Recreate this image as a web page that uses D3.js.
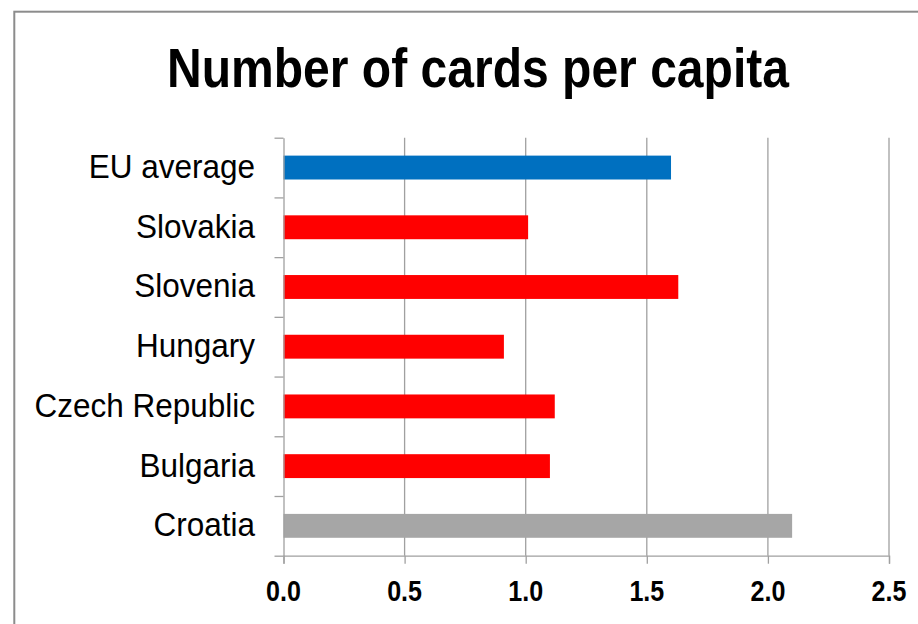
<!DOCTYPE html>
<html>
<head>
<meta charset="utf-8">
<script src="https://cdn.jsdelivr.net/npm/d3@7"></script>
<style>
  html, body { margin: 0; padding: 0; background: #fff; }
  svg { display: block; }
</style>
</head>
<body>
<svg id="chart" width="918" height="624"></svg>
<script>
const titleText = "Number of cards per capita";
const categories = ["EU average", "Slovakia", "Slovenia", "Hungary", "Czech Republic", "Bulgaria", "Croatia"];
const values = [1.60, 1.01, 1.63, 0.91, 1.12, 1.10, 2.10];
const barColors = ["#0070C0", "#FF0000", "#FF0000", "#FF0000", "#FF0000", "#FF0000", "#A6A6A6"];
const xTicks = [0, 0.5, 1.0, 1.5, 2.0, 2.5];

const svg = d3.select("#chart");
const font = "'Liberation Sans', Arial, sans-serif";

// outer frame
svg.append("rect")
  .attr("x", 14.3).attr("y", 11.7)
  .attr("width", 1000).attr("height", 800)
  .attr("fill", "#fff")
  .attr("stroke", "#8c8c8c").attr("stroke-width", 2);

const plot = { left: 283.5, right: 889, top: 137.7, bottom: 555.7 };

const x = d3.scaleLinear().domain([0, 2.5]).range([plot.left, plot.right]);
const y = d3.scaleBand().domain(categories)
  .range([plot.top, plot.bottom])
  .paddingInner(0.6).paddingOuter(0.3);
const slot = d3.scaleLinear().domain([0, categories.length]).range([plot.top, plot.bottom]);

// helper to fit text horizontally
function squeeze(sel, sx) {
  sel.each(function () {
    const t = d3.select(this);
    const tx = +t.attr("x"), ty = +t.attr("y");
    t.attr("x", 0).attr("y", 0)
     .attr("transform", `translate(${tx},${ty}) scale(${sx},1)`);
  });
}

// gridlines
svg.append("g").selectAll("line")
  .data(xTicks.filter(d => d > 0))
  .join("line")
  .attr("x1", d => x(d)).attr("x2", d => x(d))
  .attr("y1", plot.top).attr("y2", plot.bottom)
  .attr("stroke", "#a0a0a0").attr("stroke-width", 1.3);

// bars
svg.append("g").selectAll("rect")
  .data(categories)
  .join("rect")
  .attr("x", x(0))
  .attr("y", d => y(d))
  .attr("width", (d, i) => x(values[i]) - x(0))
  .attr("height", y.bandwidth())
  .attr("fill", (d, i) => barColors[i]);

// x axis
const xAxis = svg.append("g")
  .attr("transform", `translate(0,${plot.bottom})`)
  .call(d3.axisBottom(x).tickValues(xTicks).tickFormat(d3.format(".1f")).tickSize(8).tickPadding(14));
xAxis.select(".domain").attr("stroke", "#a0a0a0").attr("stroke-width", 1.3);
xAxis.selectAll(".tick line").attr("stroke", "#a0a0a0").attr("stroke-width", 1.3);
xAxis.selectAll(".tick text").remove();
svg.append("g").selectAll("text")
  .data(xTicks)
  .join("text")
  .attr("x", d => x(d))
  .attr("y", 601)
  .attr("text-anchor", "middle")
  .attr("font-family", font)
  .attr("font-weight", "bold")
  .attr("font-size", 29.5)
  .attr("fill", "#000")
  .text(d => d3.format(".1f")(d))
  .call(squeeze, 0.85);

// y axis with ticks at category boundaries
const yAxis = svg.append("g")
  .attr("transform", `translate(${plot.left},0)`)
  .call(d3.axisLeft(slot).tickValues(d3.range(categories.length + 1)).tickFormat("").tickSize(9).tickSizeOuter(0));
yAxis.select(".domain").attr("stroke", "#a0a0a0").attr("stroke-width", 1.3);
yAxis.selectAll(".tick line").attr("stroke", "#a0a0a0").attr("stroke-width", 1.3);

// category labels
svg.append("g").selectAll("text")
  .data(categories)
  .join("text")
  .attr("x", 255)
  .attr("y", d => y(d) + y.bandwidth() / 2 + 10.5)
  .attr("text-anchor", "end")
  .attr("font-family", font)
  .attr("font-size", 33.5)
  .attr("fill", "#000")
  .text(d => d)
  .call(squeeze, 0.94);

// title
svg.append("text")
  .attr("x", 478).attr("y", 86.7)
  .attr("text-anchor", "middle")
  .attr("font-family", font)
  .attr("font-weight", "bold")
  .attr("font-size", 56)
  .attr("fill", "#000")
  .text(titleText)
  .call(squeeze, 0.858);
</script>
</body>
</html>
